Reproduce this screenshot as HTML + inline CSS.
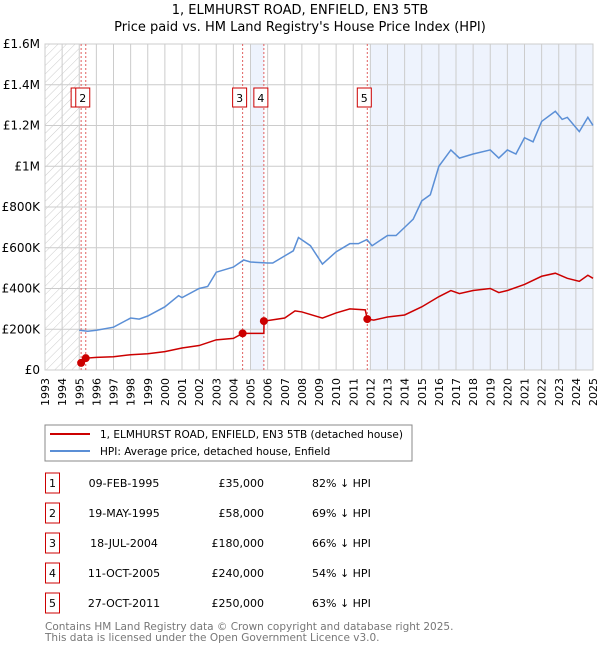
<!DOCTYPE html>
<html><head><meta charset="utf-8"><style>
body{margin:0;background:#fff;font-family:"DejaVu Sans","Liberation Sans",sans-serif;}
svg text{font-family:"DejaVu Sans","Liberation Sans",sans-serif;}
</style></head><body>
<svg id="c" width="600" height="650" xmlns="http://www.w3.org/2000/svg">
<text x="300" y="14" text-anchor="middle" font-size="13">1, ELMHURST ROAD, ENFIELD, EN3 5TB</text>
<text x="300" y="31" text-anchor="middle" font-size="13">Price paid vs. HM Land Registry's House Price Index (HPI)</text>
<defs><pattern id="h" width="6" height="6" patternUnits="userSpaceOnUse" patternTransform="rotate(45)"><line x1="0" y1="0" x2="0" y2="6" stroke="#ccc" stroke-width="1"/></pattern></defs>
<g id="plot"></g>
<rect x="45" y="425" width="367" height="36" fill="#fff" stroke="#888"/>
<line x1="50" y1="434" x2="90" y2="434" stroke="#cc0000" stroke-width="2"/>
<text x="100" y="438" font-size="10.5">1, ELMHURST ROAD, ENFIELD, EN3 5TB (detached house)</text>
<line x1="50" y1="451" x2="90" y2="451" stroke="#5b8fd6" stroke-width="2"/>
<text x="100" y="455" font-size="10.5">HPI: Average price, detached house, Enfield</text>
<g id="tbl"></g>
<text x="45" y="630" font-size="10.5" fill="#777">Contains HM Land Registry data © Crown copyright and database right 2025.</text>
<text x="45" y="641" font-size="10.5" fill="#777">This data is licensed under the Open Government Licence v3.0.</text>
</svg>
<script>
const yearTicks=[1993,1994,1995,1996,1997,1998,1999,2000,2001,2002,2003,2004,2005,2006,2007,2008,2009,2010,2011,2012,2013,2014,2015,2016,2017,2018,2019,2020,2021,2022,2023,2024,2025];
const yTicks=[0,200,400,600,800,1000,1200,1400,1600];
const yTickLabels=["£0","£200K","£400K","£600K","£800K","£1M","£1.2M","£1.4M","£1.6M"];
const hpiT=[1995.0,1995.5,1996,1997,1998,1998.5,1999,2000,2000.8,2001,2002,2002.5,2003,2004,2004.6,2005,2006,2006.3,2007,2007.5,2007.8,2008.5,2009.2,2010,2010.8,2011.3,2011.8,2012.1,2013,2013.5,2014,2014.5,2015,2015.5,2016,2016.7,2017.2,2018,2019,2019.5,2020,2020.5,2021,2021.5,2022,2022.8,2023.2,2023.5,2024.2,2024.7,2025];
const hpiV=[195,190,195,210,255,250,265,310,365,355,400,410,480,505,540,530,525,525,560,585,650,610,520,580,620,620,640,610,660,660,700,740,830,860,1000,1080,1040,1060,1080,1040,1080,1060,1140,1120,1220,1270,1230,1240,1170,1240,1200];
const redT=[1995.11,1995.38,1996,1997,1998,1999,2000,2001,2002,2003,2004,2004.54,2005.78,2005.79,2007,2007.6,2008,2009.2,2010,2010.8,2011.7,2011.82,2012.2,2013,2014,2015,2016,2016.7,2017.2,2018,2019,2019.5,2020,2021,2022,2022.8,2023.5,2024.2,2024.7,2025];
const redV=[35,58,62,65,75,80,90,108,120,148,155,180,180,240,255,290,285,255,280,300,295,250,245,260,270,310,360,390,375,390,400,380,390,420,460,475,450,435,465,450];
const saleT=[1995.11,1995.38,2004.54,2005.78,2011.82];
const saleV=[35,58,180,240,250];
const saleLabels=["1","2","3","4","5"];
const saleDates=["09-FEB-1995","19-MAY-1995","18-JUL-2004","11-OCT-2005","27-OCT-2011"];
const salePrices=["£35,000","£58,000","£180,000","£240,000","£250,000"];
const saleDiff=["82% ↓ HPI","69% ↓ HPI","66% ↓ HPI","54% ↓ HPI","63% ↓ HPI"];
const X0=45,X1=593,Y0=370,Y1=44;
const xs=t=>X0+(t-1993)/32*(X1-X0);
const ys=v=>Y0-v/1600*(Y0-Y1);
const NS="http://www.w3.org/2000/svg";
const g=document.getElementById('plot');
function mk(tag,attrs,parent){const e=document.createElementNS(NS,tag);for(const k in attrs)e.setAttribute(k,attrs[k]);(parent||g).appendChild(e);return e;}
let e;
e=mk('rect',{x:xs(1993),y:Y1,width:xs(1995)-xs(1993),height:Y0-Y1,fill:'url(#h)'});


e=mk('rect',{x:xs(2005),y:Y1,width:xs(saleT[3])-xs(2005),height:Y0-Y1,fill:'#eef3fd'});


e=mk('rect',{x:xs(2012),y:Y1,width:X1-xs(2012),height:Y0-Y1,fill:'#eef3fd'});


yearTicks.forEach(t=>{
 e=mk('line',{x1:xs(t),x2:xs(t),y1:Y1,y2:Y0,stroke:'#ccc','stroke-width':1});
 
 
 const x=xs(t)+4,y=406;
 e=mk('text',{x:x,y:y,'font-size':11,transform:`rotate(-90 ${x} ${y})`});
 e.textContent=t;
 
 
});
yTicks.forEach((v,i)=>{
 e=mk('line',{x1:X0,x2:X1,y1:ys(v),y2:ys(v),stroke:'#ccc','stroke-width':1});
 
 
 e=mk('text',{x:40,y:ys(v)+4,'font-size':12,'text-anchor':'end'});
 e.textContent=yTickLabels[i];
 
 
});
e=mk('rect',{x:X0,y:Y1,width:X1-X0,height:Y0-Y1,fill:'none',stroke:'#ccc'});


saleT.forEach((t,i)=>{
 e=mk('line',{x1:xs(t),x2:xs(t),y1:Y1,y2:Y0,stroke:'#e06060','stroke-width':1,'stroke-dasharray':'2,2'});
 
 
});
e=mk('polyline',{points:hpiT.map((t,i)=>xs(t)+','+ys(hpiV[i])).join(' '),fill:'none',stroke:'#5b8fd6','stroke-width':1.5});


e=mk('polyline',{points:redT.map((t,i)=>xs(t)+','+ys(redV[i])).join(' '),fill:'none',stroke:'#cc0000','stroke-width':1.5});


saleT.forEach((t,i)=>{
 e=mk('circle',{cx:xs(t),cy:ys(saleV[i]),r:4,fill:'#cc0000'});
 
 
});
saleT.forEach((t,i)=>{
 const bx=xs(t)-10;
 e=mk('rect',{x:bx,y:88,width:14,height:19,fill:'#fff',stroke:'#cc0000'});
 
 
 e=mk('text',{x:bx+7,y:102,'font-size':11,'text-anchor':'middle'});
 e.textContent=saleLabels[i];
 
 
});
const tb=document.getElementById('tbl');
saleLabels.forEach((l,i)=>{
 const y=483+i*30;
 e=mk('rect',{x:45.5,y:y-10,width:14,height:20,fill:'#fff',stroke:'#cc0000'},tb);
 
 
 e=mk('text',{x:52.5,y:y+4,'font-size':11,'text-anchor':'middle'},tb);
 e.textContent=l;
 
 
 e=mk('text',{x:124,y:y+4,'font-size':11,'text-anchor':'middle'},tb);
 e.textContent=saleDates[i];
 
 
 e=mk('text',{x:264,y:y+4,'font-size':11,'text-anchor':'end'},tb);
 e.textContent=salePrices[i];
 
 
 e=mk('text',{x:312,y:y+4,'font-size':11},tb);
 e.textContent=saleDiff[i];
 
 
});
</script>
</body></html>
